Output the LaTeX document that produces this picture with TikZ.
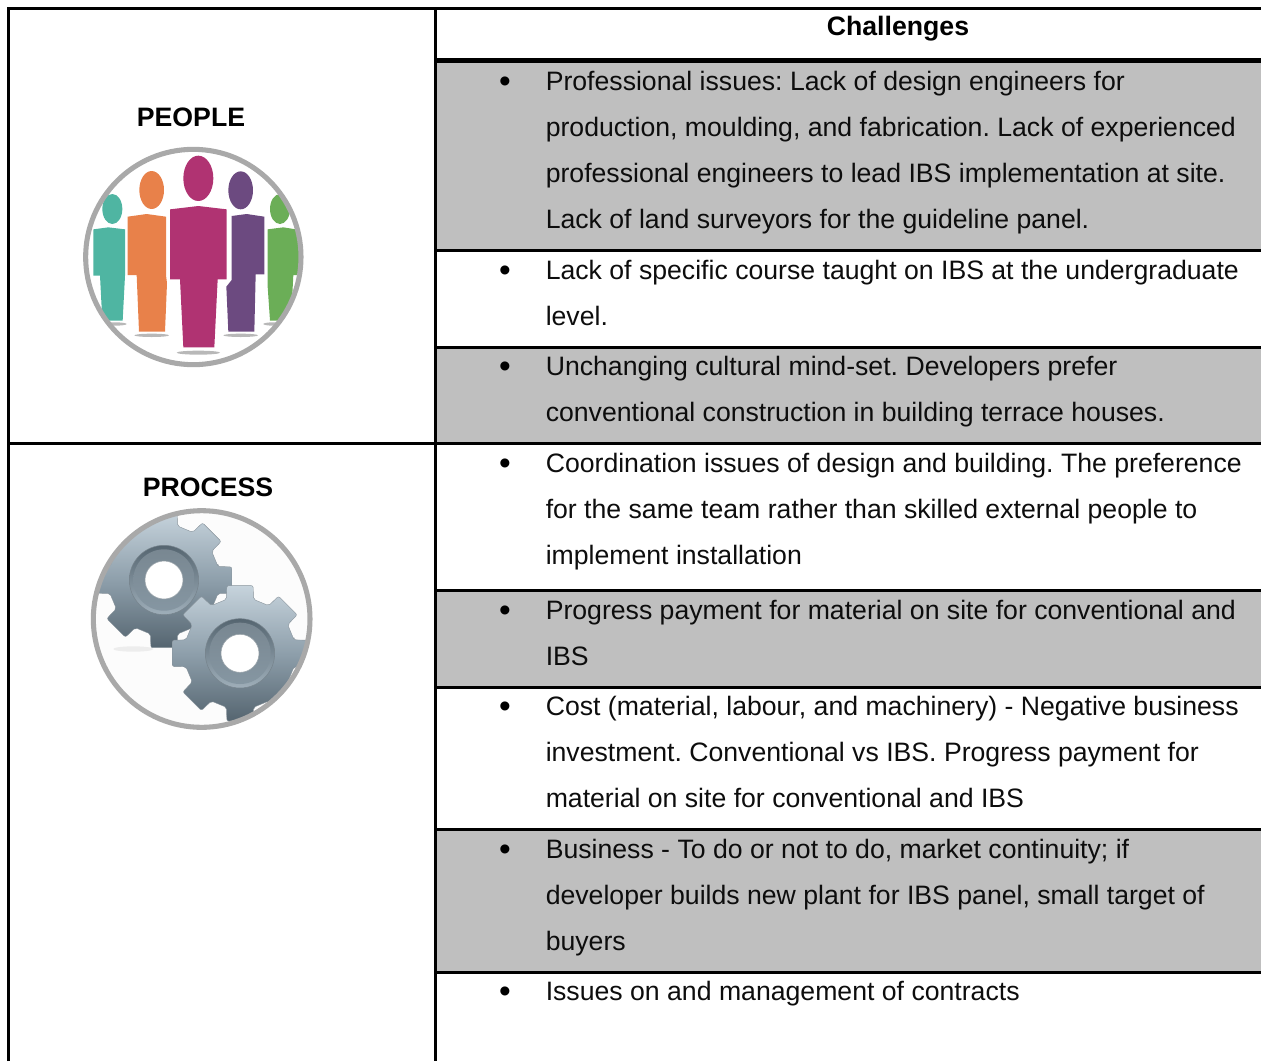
\documentclass[tikz,border=0pt]{standalone}
\usepackage{fontspec}
\setmainfont{Liberation Sans}
\definecolor{rowgray}{HTML}{BFBFBF}
\definecolor{ringgray}{HTML}{A9A9A9}
\definecolor{pMagenta}{HTML}{B03372}
\definecolor{pOrange}{HTML}{E8814A}
\definecolor{pPurple}{HTML}{6C4A80}
\definecolor{pTeal}{HTML}{4FB5A2}
\definecolor{pGreen}{HTML}{6BAE57}
\definecolor{gearTop}{HTML}{C6D3DC}
\definecolor{gearMid}{HTML}{8E9FAB}
\definecolor{gearBot}{HTML}{556570}
\tikzset{
  rule/.style={black,line width=2.25pt},
  body/.style={anchor=base west,inner sep=0pt,font=\fontsize{19.98pt}{24pt}\selectfont\frenchspacing,text=black!95},
  bul/.style={anchor=base,inner sep=0pt,font=\fontsize{25pt}{24pt}\selectfont},
  head/.style={anchor=base,inner sep=0pt,font=\fontsize{20pt}{24pt}\selectfont\bfseries},
  ring/.style={draw=ringgray,line width=3.8pt},
  shadowmark/.style={fill=black!35,opacity=.8}
}
\newcommand{\bulletat}[2]{\node[bul] (#1) at (505,#2+2) {•};}
\newcommand{\gearshape}[3]{%
  \begin{scope}[shift={(#1,#2)}]
    \path[top color=gearTop,bottom color=gearBot,middle color=gearMid,draw=gearBot!70,line width=.3pt,rounded corners=1.5pt]
      (#3-14:167)
      \foreach \a in {0,45,...,315} {
        -- (\a+#3-14:167) -- (\a+#3-11:207) -- (\a+#3+11:207) -- (\a+#3+14:167)
      } -- cycle;
    \path[top color=gearBot,bottom color=gearMid!70!gearTop,draw=gearBot!80,line width=.4pt] (0,0) circle[radius=104];
    \path[top color=gearMid!85!black,bottom color=gearMid!85!gearBot] (0,0) circle[radius=92];
    \fill[white,draw=gearBot!60,line width=.4pt] (0,0) circle[radius=57];
  \end{scope}}
\begin{document}
\begin{tikzpicture}[x=.75pt,y=-.75pt]
\useasboundingbox (0,0) rectangle (1261,1061);
% shaded rows
\fill[rowgray] (436,60) rectangle (1261,250);
\fill[rowgray] (436,347) rectangle (1261,443);
\fill[rowgray] (436,590) rectangle (1261,687);
\fill[rowgray] (436,829) rectangle (1261,972);
% rules
\draw[rule] (8.5,1061) -- (8.5,8.5) -- (1261,8.5);
\draw[rule] (435.5,8.5) -- (435.5,1061);
\draw[black,line width=3.5pt] (435.5,60.5) -- (1261,60.5);
\draw[rule] (435.5,250) -- (1261,250);
\draw[rule] (435.5,347) -- (1261,347);
\draw[rule] (8.5,443) -- (1261,443);
\draw[rule] (435.5,590) -- (1261,590);
\draw[rule] (435.5,687) -- (1261,687);
\draw[rule] (435.5,829) -- (1261,829);
\draw[rule] (435.5,972) -- (1261,972);
% headings
\node[head] (hChallenges) at (898,35) {Challenges};
\node[head] (hPeople) at (191,126) {PEOPLE};
\node[head] (hProcess) at (208,496) {PROCESS};
% body text
\bulletat{b1}{90}
\node[body] (t1a) at (545.5,90) {Professional issues: Lack of design engineers for};
\node[body] (t1b) at (545.5,136) {production, moulding, and fabrication. Lack of experienced};
\node[body] (t1c) at (545.5,182) {professional engineers to lead IBS implementation at site.};
\node[body] (t1d) at (545.5,228) {Lack of land surveyors for the guideline panel.};
\bulletat{b2}{279}
\node[body] (t2a) at (545.5,279) {Lack of specific course taught on IBS at the undergraduate};
\node[body] (t2b) at (545.5,325) {level.};
\bulletat{b3}{375}
\node[body] (t3a) at (545.5,375) {Unchanging cultural mind-set. Developers prefer};
\node[body] (t3b) at (545.5,421) {conventional construction in building terrace houses.};
\bulletat{b4}{472}
\node[body] (t4a) at (545.5,472) {Coordination issues of design and building. The preference};
\node[body] (t4b) at (545.5,518) {for the same team rather than skilled external people to};
\node[body] (t4c) at (545.5,564) {implement installation};
\bulletat{b5}{619}
\node[body] (t5a) at (545.5,619) {Progress payment for material on site for conventional and};
\node[body] (t5b) at (545.5,665) {IBS};
\bulletat{b6}{715}
\node[body] (t6a) at (545.5,715) {Cost (material, labour, and machinery) - Negative business};
\node[body] (t6b) at (545.5,761) {investment. Conventional vs IBS. Progress payment for};
\node[body] (t6c) at (545.5,807) {material on site for conventional and IBS};
\bulletat{b7}{858}
\node[body] (t7a) at (545.5,858) {Business - To do or not to do, market continuity; if};
\node[body] (t7b) at (545.5,904) {developer builds new plant for IBS panel, small target of};
\node[body] (t7c) at (545.5,950) {buyers};
\bulletat{b8}{1000}
\node[body] (t8a) at (545.5,1000) {Issues on and management of contracts};
% people icon
\begin{scope}[shift={(70,90)},x=.25pt,y=-.25pt]
  \begin{scope}
    \clip (370,501) circle[radius=323];
    \fill[shadowmark] (385,788) ellipse[x radius=65,y radius=6];
    \fill[shadowmark] (245,736) ellipse[x radius=52,y radius=5];
    \fill[shadowmark] (512,736) ellipse[x radius=52,y radius=5];
    \fill[shadowmark] (135,702) ellipse[x radius=35,y radius=5];
    \fill[shadowmark] (610,702) ellipse[x radius=30,y radius=5];
    \fill[pTeal] (127,357) ellipse[x radius=30,y radius=45];
    \fill[pTeal] (70,418) -- (115,412) -- (165,418) -- (165,557) -- (158,692) -- (97,692) -- (90,557) -- (70,557) -- cycle;
    \fill[pGreen] (630,357) ellipse[x radius=30,y radius=45];
    \fill[pGreen] (593,418) -- (640,412) -- (690,420) -- (690,555) -- (670,555) -- (663,692) -- (600,692) -- (593,590) -- cycle;
    \fill[pOrange] (245,300) ellipse[x radius=37,y radius=57];
    \fill[pOrange] (173,380) -- (230,372) -- (288,380) -- (288,555) -- (291,580) -- (285,725) -- (207,725) -- (200,555) -- (173,555) -- cycle;
    \fill[pPurple] (512,301) ellipse[x radius=37,y radius=57];
    \fill[pPurple] (485,378) -- (530,372) -- (583,380) -- (583,553) -- (557,553) -- (553,725) -- (475,725) -- (469,590) -- (485,570) -- cycle;
    \fill[pMagenta] (385,265) ellipse[x radius=45,y radius=68];
    \fill[pMagenta] (300,358) -- (385,348) -- (470,358) -- (470,568) -- (443,568) -- (433,772) -- (340,772) -- (330,568) -- (300,568) -- cycle;
  \end{scope}
  \draw[ring] (370,501) circle[radius=323];
\end{scope}
% process icon
\begin{scope}[shift={(80,465)},x=.25pt,y=-.25pt]
  \begin{scope}
    \clip (365,462) circle[radius=325];
    \fill[black!1] (365,462) circle[radius=325];
    \fill[black!7] (160,552) ellipse[x radius=60,y radius=8];
    \gearshape{252}{345}{0}
    \gearshape{480}{565}{0}
  \end{scope}
  \draw[ring] (365,462) circle[radius=325];
\end{scope}
\end{tikzpicture}
\end{document}
